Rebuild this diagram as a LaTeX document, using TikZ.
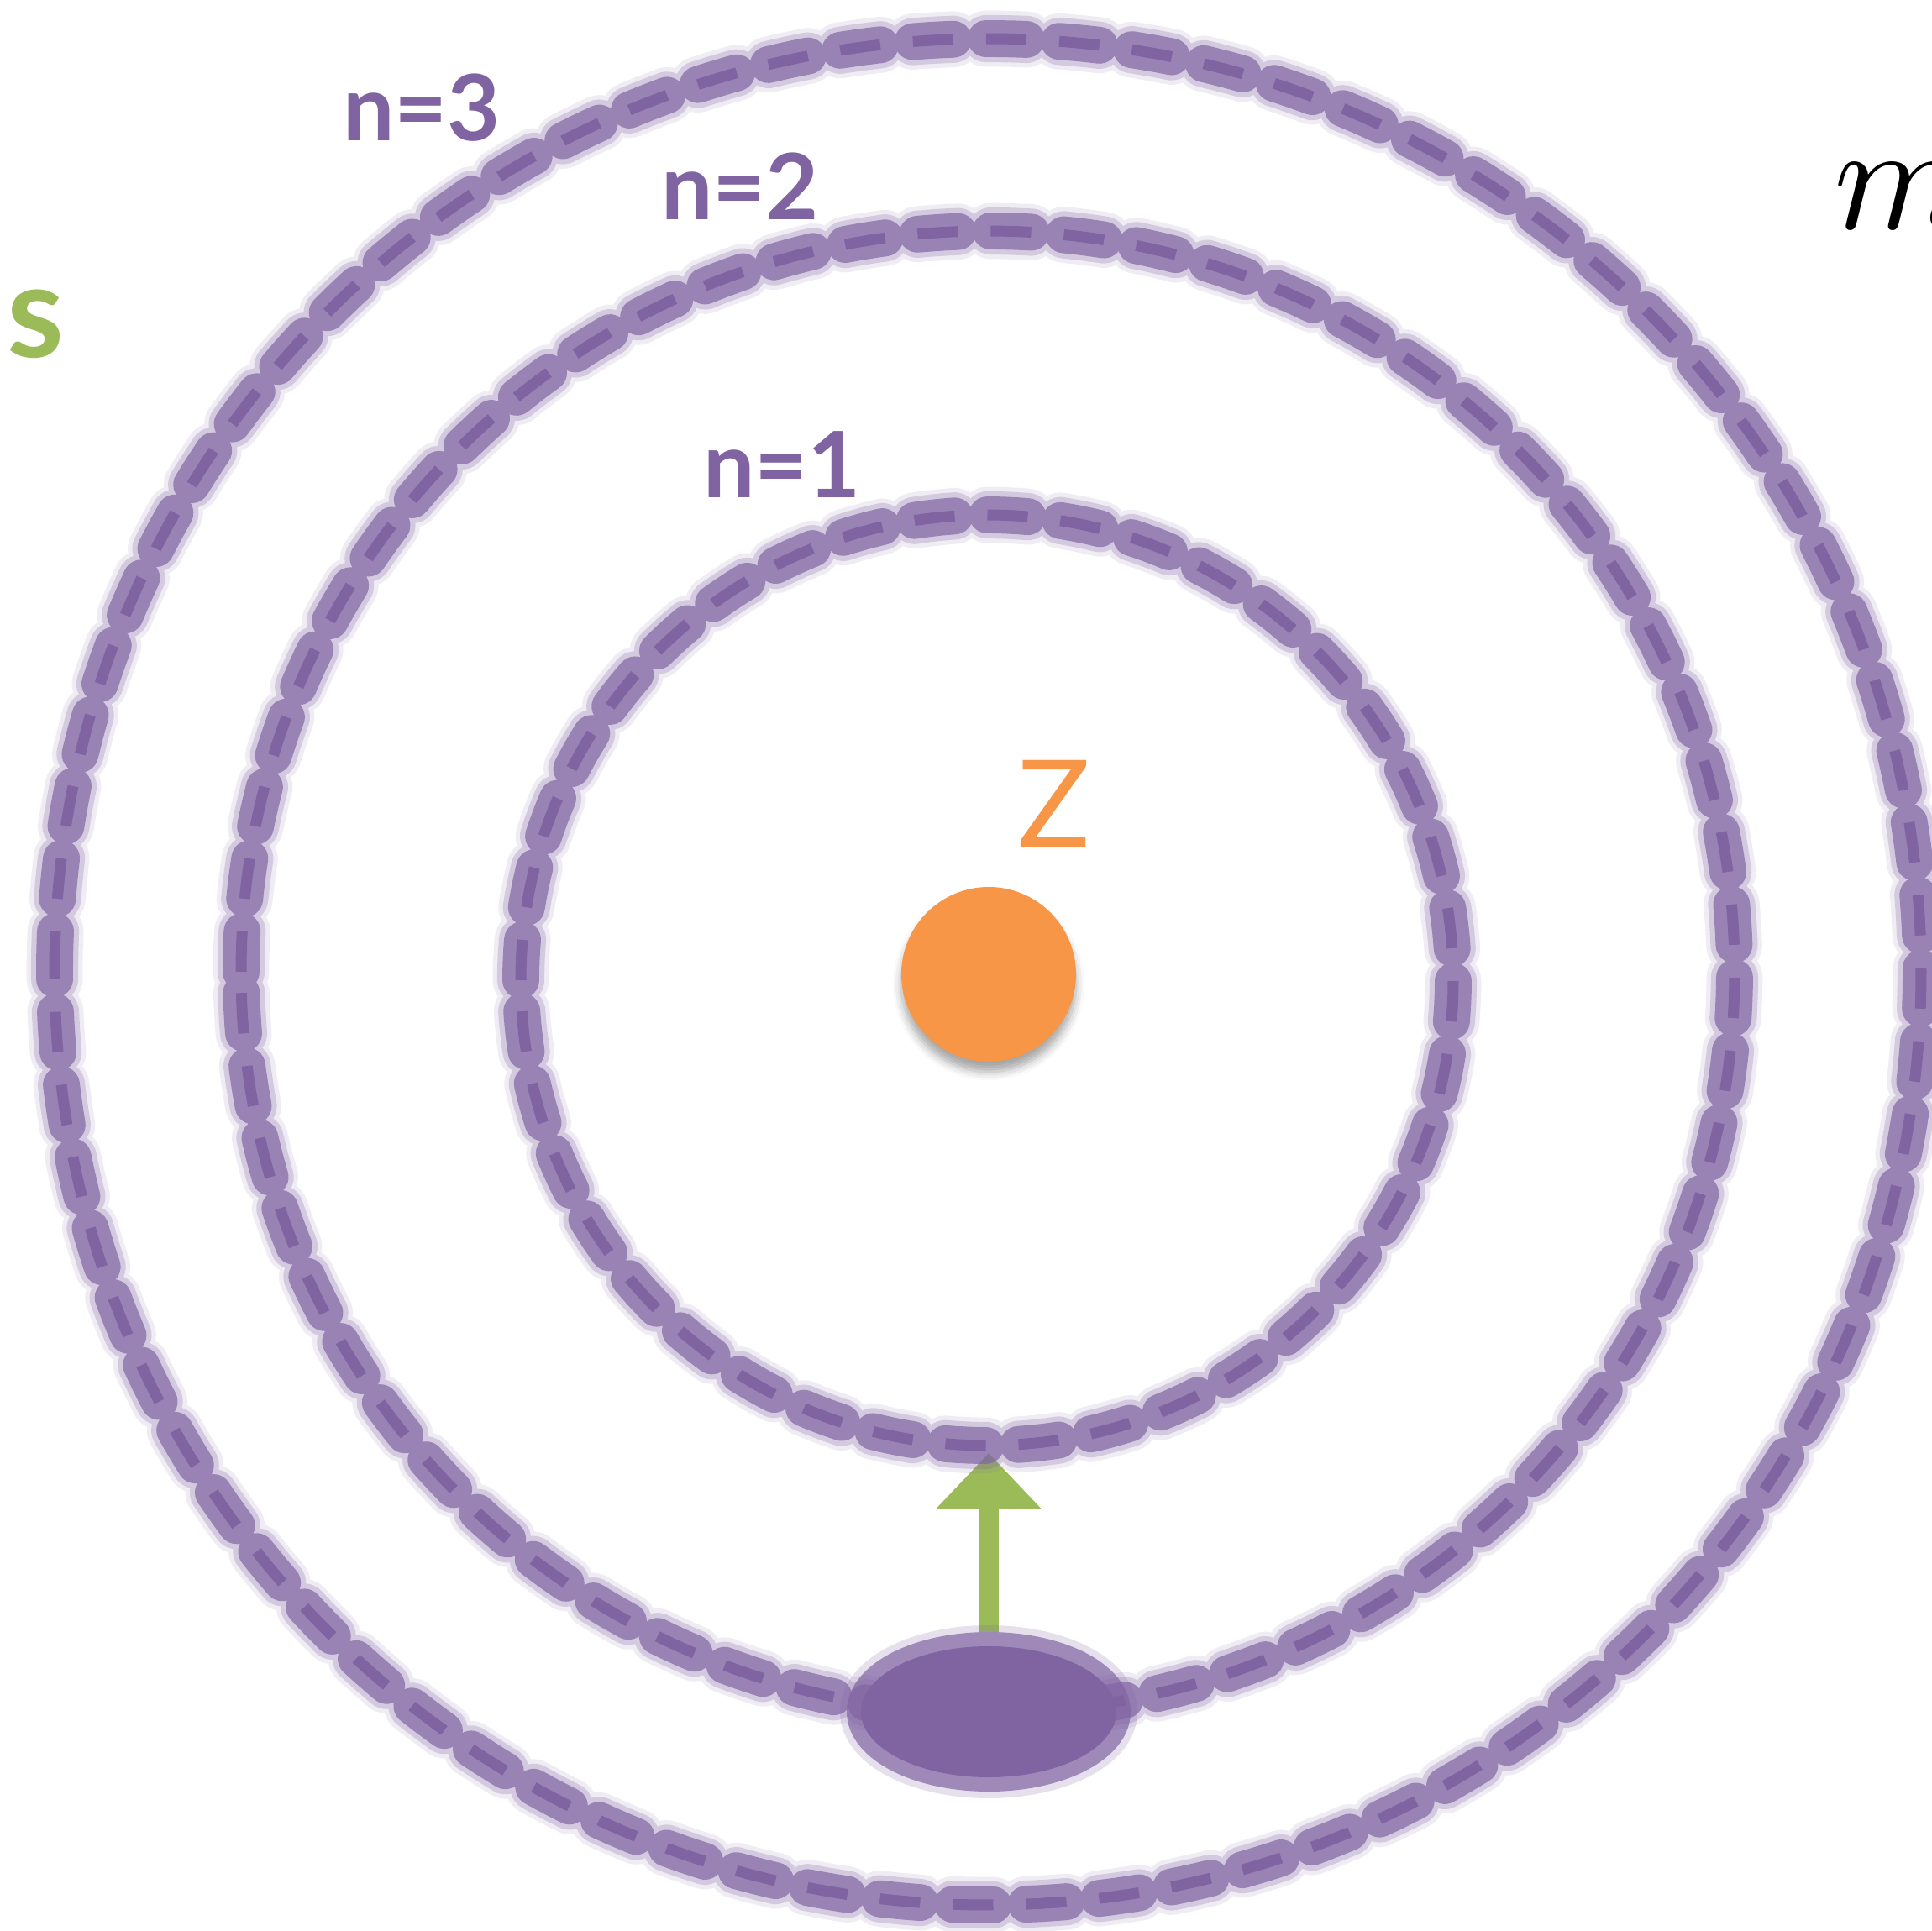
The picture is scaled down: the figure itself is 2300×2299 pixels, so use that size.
\documentclass[tikz,border=0pt]{standalone}
\usepackage{fontspec}
\newfontfamily\labelfont{Lato}
\usetikzlibrary{arrows.meta, shapes.geometric, shadows.blur}
\definecolor{orbitpurple}{HTML}{8064A2}
\definecolor{nucleusorange}{HTML}{F79646}
\definecolor{jumpgreen}{HTML}{9BBB59}
\pgfdeclarelayer{back}
\pgfsetlayers{back,main}

\tikzset{
    orbit blur/.style={draw=orbitpurple, draw opacity=0.12, line width=19pt,
        line cap=round, dash pattern=on 13.7pt off 11.1pt},
    orbit fringe/.style={draw=orbitpurple, draw opacity=0.25, line width=16pt,
        line cap=round, dash pattern=on 13.7pt off 11.1pt},
    orbit halo/.style={draw=orbitpurple, draw opacity=0.7, line width=12.5pt,
        line cap=round, dash pattern=on 13.7pt off 11.1pt},
    orbit core/.style={draw=orbitpurple, line width=3.7pt,
        line cap=butt, dash pattern=on 13.7pt off 11.1pt},
    shell label/.style={font=\labelfont\bfseries\fontsize{31}{36}\selectfont,
        text=orbitpurple, inner sep=0pt},
    nucleus/.style={circle, fill=nucleusorange, minimum size=20.8mm, inner sep=0pt,
        blur shadow={shadow xshift=0pt, shadow yshift=-1.2mm,
            shadow blur radius=1mm, shadow opacity=35}},
    electron/.style={ellipse, fill=orbitpurple, draw=orbitpurple, draw opacity=0.7,
        line width=3.4mm, minimum width=30.4mm, minimum height=15.6mm, inner sep=0pt,
        preaction={draw=orbitpurple, draw opacity=0.2, line width=5mm}},
    jump/.style={draw=jumpgreen, line width=7.1pt,
        -{Triangle[width=34.7pt, length=19pt]}}
}

% #1 centre, #2 x radius, #3 y radius
\newcommand{\DrawOrbit}[3]{%
    \draw[orbit blur] (#1) ++(-#2,0) arc[start angle=180, end angle=-180, x radius=#2, y radius=#3];
    \draw[orbit fringe] (#1) ++(-#2,0) arc[start angle=180, end angle=-180, x radius=#2, y radius=#3];
    \draw[orbit halo] (#1) ++(-#2,0) arc[start angle=180, end angle=-180, x radius=#2, y radius=#3];
    \draw[orbit core] (#1) ++(-#2,0) arc[start angle=180, end angle=-180, x radius=#2, y radius=#3];
}

\begin{document}
\begin{tikzpicture}[x=0.1mm, y=-0.1mm]
    \useasboundingbox (0,0) rectangle (2300,2299);

    % Centres of the shells
    \coordinate (C3) at (1176,1157);
    \coordinate (C2) at (1176,1157);
    \coordinate (C1) at (1175,1167);
    \coordinate (tip) at (1177,1730); % bottom of n=1

    % Shells, outer to inner
    \DrawOrbit{C3}{111.1mm}{111.1mm}
    \DrawOrbit{C2}{88.9mm}{88.2mm}
    \DrawOrbit{C1}{55.5mm}{55.4mm}

    \node[nucleus] (nucleus) at (1177,1160) {};
    \node[font=\labelfont\fontsize{41}{48}\selectfont, text=nucleusorange, inner sep=0pt]
        (charge) at (1255,957) {Z};
    \node[electron] (electron) at (1177,2038) {};

    \begin{pgfonlayer}{back}
        \draw[jump] (electron.north) -- (tip);
    \end{pgfonlayer}

    \node[shell label] (n3) at (502,128) {n=3};
    \node[shell label] (n2) at (881,222) {n=2};
    \node[shell label] (n1) at (931,553) {n=1};
    \node[font=\labelfont\bfseries\fontsize{44}{52}\selectfont, text=jumpgreen, inner sep=0pt]
        (spin) at (42,386) {s};
    \node[scale=5.15, anchor=base west, inner sep=0pt] (mass) at (2180,273) {$m$};
\end{tikzpicture}
\end{document}
